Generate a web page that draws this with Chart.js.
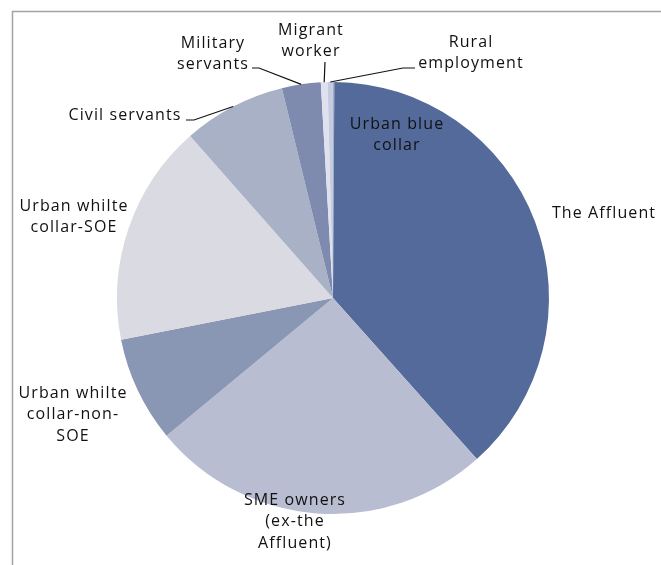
<!DOCTYPE html>
<html>
<head>
<meta charset="utf-8">
<script src="https://cdn.jsdelivr.net/npm/chart.js@4.4.1/dist/chart.umd.min.js"></script>
<style>
  html, body { margin: 0; padding: 0; background: #fff; }
  #wrap { width: 661px; height: 565px; }
</style>
</head>
<body>
<div id="wrap"><canvas id="pie" width="661" height="565"></canvas></div>
<script>
// slices, clockwise from 12 o'clock
const categories = [
  "Urban blue collar",
  "The Affluent",
  "SME owners (ex-the Affluent)",
  "Urban whilte collar-non-SOE",
  "Urban whilte collar-SOE",
  "Civil servants",
  "Military servants",
  "Migrant worker",
  "Rural employment"
];
const shares = [0.1, 38.3, 25.6, 7.9, 16.6, 7.7, 2.9, 0.5, 0.4];
const sliceColors = ["#a3adc9", "#536a9a", "#b9bdd1", "#8a97b4", "#d9dae2", "#a9b1c6", "#7e8bae", "#dfe2ee", "#c6cce0"];

// wrapped label text, one entry per slice
const labelLines = [
  ["Urban blue", "collar"],
  ["The Affluent"],
  ["SME owners", "(ex-the", "Affluent)"],
  ["Urban whilte", "collar-non-", "SOE"],
  ["Urban whilte", "collar-SOE"],
  ["Civil servants"],
  ["Military", "servants"],
  ["Migrant", "worker"],
  ["Rural", "employment"]
];

// where each label sits; leader = elbow points before the line runs to the slice edge
const labelPlaces = [
  { x: 397, y: 124 },
  { x: 604, y: 213 },
  { x: 295, y: 500 },
  { x: 73, y: 393 },
  { x: 74, y: 206 },
  { x: 125, y: 115, leader: [[186, 120], [194, 120]] },
  { x: 213, y: 43, leader: [[252, 68], [259, 68]] },
  { x: 311, y: 30, leader: [[325, 62]] },
  { x: 471, y: 42, leader: [[415, 68], [403, 68]] }
];

const LINE_H = 21.5;

const framePlugin = {
  id: "frame",
  beforeDraw(chart) {
    const ctx = chart.ctx;
    ctx.save();
    ctx.strokeStyle = "#a3a3a3";
    ctx.lineWidth = 1.5;
    ctx.beginPath();
    ctx.moveTo(12.5, chart.height);
    ctx.lineTo(12.5, 11.5);
    ctx.lineTo(chart.width, 11.5);
    ctx.stroke();
    ctx.restore();
  }
};

const sliceLabelPlugin = {
  id: "sliceLabels",
  afterDatasetsDraw(chart) {
    const ctx = chart.ctx;
    const arcs = chart.getDatasetMeta(0).data;
    ctx.save();
    ctx.font = "16px 'Open Sans', Arial, sans-serif";
    ctx.letterSpacing = "1.1px";
    ctx.fillStyle = "#111";
    ctx.textAlign = "center";
    ctx.textBaseline = "middle";
    arcs.forEach((arc, i) => {
      const place = labelPlaces[i];
      labelLines[i].forEach((t, k) => ctx.fillText(t, place.x, place.y + k * LINE_H));
      if (place.leader) {
        const p = arc.getProps(["x", "y", "startAngle", "endAngle", "outerRadius"], true);
        const mid = (p.startAngle + p.endAngle) / 2;
        const ex = p.x + Math.cos(mid) * p.outerRadius;
        const ey = p.y + Math.sin(mid) * p.outerRadius;
        ctx.strokeStyle = "#111";
        ctx.lineWidth = 1.2;
        ctx.beginPath();
        ctx.moveTo(place.leader[0][0], place.leader[0][1]);
        place.leader.slice(1).forEach(pt => ctx.lineTo(pt[0], pt[1]));
        ctx.lineTo(ex, ey);
        ctx.stroke();
      }
    });
    ctx.restore();
  }
};

new Chart(document.getElementById("pie"), {
  type: "pie",
  data: {
    labels: categories,
    datasets: [{
      data: shares,
      backgroundColor: sliceColors,
      borderWidth: 0,
      hoverOffset: 0
    }]
  },
  options: {
    responsive: false,
    animation: false,
    layout: { padding: { top: 82, bottom: 51, left: 117, right: 112 } },
    plugins: {
      legend: { display: false },
      tooltip: { enabled: false }
    }
  },
  plugins: [framePlugin, sliceLabelPlugin]
});
</script>
</body>
</html>
